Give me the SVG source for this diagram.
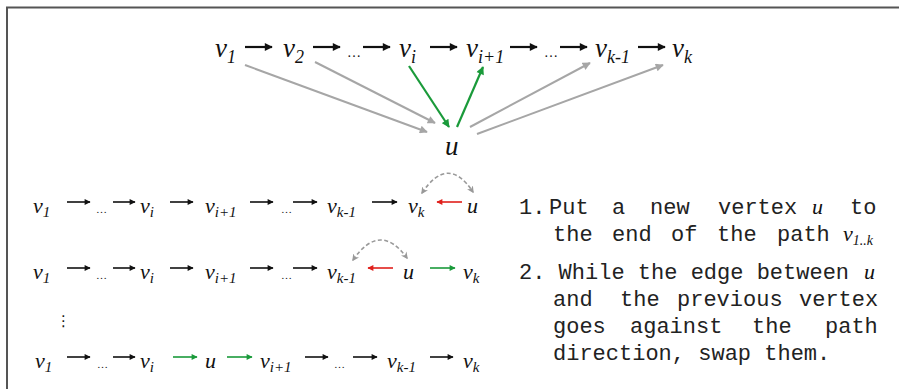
<svg xmlns="http://www.w3.org/2000/svg" width="899" height="389" viewBox="0 0 899 389">
<style>
.m{font-family:"Liberation Serif","DejaVu Serif",serif;font-style:italic;fill:#111}
.big{font-size:27px}
.mid{font-size:22px}
.dots{font-family:"Liberation Serif",serif;fill:#111}
.t{font-family:"Liberation Mono","DejaVu Sans Mono",monospace;font-size:22px;fill:#222}
.bk{stroke:#111;fill:none}
.gr{stroke:#a6a6a6;stroke-width:2;fill:none}
.gn{stroke:#1a9a3a;fill:none}
.rd{stroke:#e0201c;fill:none}
.ds{stroke:#999;stroke-width:1.6;fill:none;stroke-dasharray:4 2.5}
</style>
<defs>
<marker id="hb" viewBox="0 0 10 10" refX="9" refY="5" markerUnits="userSpaceOnUse" markerWidth="9" markerHeight="8" orient="auto"><path d="M0,0 L10,5 L0,10 z" fill="#111"/></marker>
<marker id="hbs" viewBox="0 0 10 10" refX="9" refY="5" markerUnits="userSpaceOnUse" markerWidth="7" markerHeight="6" orient="auto"><path d="M0,0 L10,5 L0,10 z" fill="#111"/></marker>
<marker id="hg" viewBox="0 0 10 10" refX="9" refY="5" markerUnits="userSpaceOnUse" markerWidth="9" markerHeight="8" orient="auto"><path d="M0,0 L10,5 L0,10 z" fill="#a6a6a6"/></marker>
<marker id="hn" viewBox="0 0 10 10" refX="9" refY="5" markerUnits="userSpaceOnUse" markerWidth="9" markerHeight="8" orient="auto"><path d="M0,0 L10,5 L0,10 z" fill="#1a9a3a"/></marker>
<marker id="hns" viewBox="0 0 10 10" refX="9" refY="5" markerUnits="userSpaceOnUse" markerWidth="7" markerHeight="6" orient="auto"><path d="M0,0 L10,5 L0,10 z" fill="#1a9a3a"/></marker>
<marker id="hrs" viewBox="0 0 10 10" refX="9" refY="5" markerUnits="userSpaceOnUse" markerWidth="7" markerHeight="6" orient="auto"><path d="M0,0 L10,5 L0,10 z" fill="#e0201c"/></marker>
<marker id="hd" viewBox="0 0 10 10" refX="8" refY="5" markerUnits="userSpaceOnUse" markerWidth="7" markerHeight="7" orient="auto-start-reverse"><path d="M0,0 L10,5 L0,10 L3,5 z" fill="#999"/></marker>
</defs>
<rect width="899" height="389" fill="#fff"/>
<path d="M7,399 V7.5 H910" stroke="#555" stroke-width="2" fill="none"/>

<!-- top row nodes -->
<g id="t-v1"><text class="m big" x="215" y="57">v<tspan font-size="18" dy="6">1</tspan></text></g>
<g id="t-v2"><text class="m big" x="283" y="57">v<tspan font-size="18" dy="6">2</tspan></text></g>
<g id="t-d1"><text class="dots" font-size="14" x="347" y="57">…</text></g>
<g id="t-vi"><text class="m big" x="399" y="57">v<tspan font-size="18" dy="6">i</tspan></text></g>
<g id="t-vi1"><text class="m big" x="466" y="57">v<tspan font-size="18" dy="6">i+1</tspan></text></g>
<g id="t-d2"><text class="dots" font-size="14" x="544" y="57">…</text></g>
<g id="t-vk1"><text class="m big" x="595" y="57">v<tspan font-size="18" dy="6">k-1</tspan></text></g>
<g id="t-vk"><text class="m big" x="672" y="57">v<tspan font-size="18" dy="6">k</tspan></text></g>
<g id="t-u"><text class="m big" x="445" y="155">u</text></g>

<!-- row 2 -->
<g id="r2-v1"><text class="m mid" x="33" y="213">v<tspan font-size="15" dy="4">1</tspan></text></g>
<g id="r2-d1"><text class="dots" font-size="11" x="96" y="213">…</text></g>
<g id="r2-vi"><text class="m mid" x="140" y="213">v<tspan font-size="15" dy="4">i</tspan></text></g>
<g id="r2-vi1"><text class="m mid" x="205" y="213">v<tspan font-size="15" dy="4">i+1</tspan></text></g>
<g id="r2-d2"><text class="dots" font-size="11" x="281" y="213">…</text></g>
<g id="r2-vk1"><text class="m mid" x="327" y="213">v<tspan font-size="15" dy="4">k-1</tspan></text></g>
<g id="r2-vk"><text class="m mid" x="408" y="213">v<tspan font-size="15" dy="4">k</tspan></text></g>
<g id="r2-u"><text class="m mid" x="467" y="213">u</text></g>

<!-- row 3 -->
<g id="r3-v1"><text class="m mid" x="33" y="279">v<tspan font-size="15" dy="4">1</tspan></text></g>
<g id="r3-d1"><text class="dots" font-size="11" x="96" y="279">…</text></g>
<g id="r3-vi"><text class="m mid" x="140" y="279">v<tspan font-size="15" dy="4">i</tspan></text></g>
<g id="r3-vi1"><text class="m mid" x="205" y="279">v<tspan font-size="15" dy="4">i+1</tspan></text></g>
<g id="r3-d2"><text class="dots" font-size="11" x="281" y="279">…</text></g>
<g id="r3-vk1"><text class="m mid" x="327" y="279">v<tspan font-size="15" dy="4">k-1</tspan></text></g>
<g id="r3-u"><text class="m mid" x="403" y="279">u</text></g>
<g id="r3-vk"><text class="m mid" x="463" y="279">v<tspan font-size="15" dy="4">k</tspan></text></g>

<g id="vdots"><text font-family="DejaVu Sans,sans-serif" font-size="15" x="56" y="326" fill="#111">⋮</text></g>

<!-- row 4 -->
<g id="r4-v1"><text class="m mid" x="35" y="368">v<tspan font-size="15" dy="4">1</tspan></text></g>
<g id="r4-d1"><text class="dots" font-size="11" x="97" y="368">…</text></g>
<g id="r4-vi"><text class="m mid" x="140" y="368">v<tspan font-size="15" dy="4">i</tspan></text></g>
<g id="r4-u"><text class="m mid" x="205" y="368">u</text></g>
<g id="r4-vi1"><text class="m mid" x="260" y="368">v<tspan font-size="15" dy="4">i+1</tspan></text></g>
<g id="r4-d2"><text class="dots" font-size="11" x="334" y="368">…</text></g>
<g id="r4-vk1"><text class="m mid" x="387" y="368">v<tspan font-size="15" dy="4">k-1</tspan></text></g>
<g id="r4-vk"><text class="m mid" x="463" y="368">v<tspan font-size="15" dy="4">k</tspan></text></g>

<!-- description -->
<g id="desc">
<text class="t" y="214"><tspan x="519">1.</tspan><tspan x="549">Put</tspan><tspan x="612">a</tspan><tspan x="650">new</tspan><tspan x="718">vertex</tspan><tspan x="812" class="m" font-size="22">u</tspan><tspan x="850">to</tspan></text>
<text class="t" y="241"><tspan x="553">the</tspan><tspan x="612">end</tspan><tspan x="671">of</tspan><tspan x="717">the</tspan><tspan x="777">path</tspan><tspan x="843" class="m" font-size="22">v</tspan><tspan class="m" font-size="14" dy="4">1..k</tspan></text>
<text class="t" y="279"><tspan x="519">2. While the edge between </tspan><tspan x="864" class="m" font-size="22">u</tspan></text>
<text class="t" y="306"><tspan x="553">and</tspan><tspan x="620">the</tspan><tspan x="677">previous</tspan><tspan x="799">vertex</tspan></text>
<text class="t" y="333"><tspan x="553">goes</tspan><tspan x="630">against</tspan><tspan x="752">the</tspan><tspan x="825">path</tspan></text>
<text class="t" y="360"><tspan x="553">direction, swap them.</tspan></text>
</g>

<g id="connectors">
<!-- top row -->
<line class="bk" stroke-width="2.2" x1="245" y1="47" x2="272" y2="47" marker-end="url(#hb)"/>
<line class="bk" stroke-width="2.2" x1="313" y1="47" x2="340" y2="47" marker-end="url(#hb)"/>
<line class="bk" stroke-width="2.2" x1="363" y1="47" x2="390" y2="47" marker-end="url(#hb)"/>
<line class="bk" stroke-width="2.2" x1="430" y1="47" x2="457" y2="47" marker-end="url(#hb)"/>
<line class="bk" stroke-width="2.2" x1="510" y1="47" x2="537" y2="47" marker-end="url(#hb)"/>
<line class="bk" stroke-width="2.2" x1="560" y1="47" x2="587" y2="47" marker-end="url(#hb)"/>
<line class="bk" stroke-width="2.2" x1="638" y1="47" x2="665" y2="47" marker-end="url(#hb)"/>
<line class="gr" x1="245" y1="65" x2="427" y2="132" marker-end="url(#hg)"/>
<line class="gr" x1="315" y1="62" x2="435" y2="123" marker-end="url(#hg)"/>
<line class="gn" stroke-width="2.2" x1="409" y1="66" x2="449" y2="127" marker-end="url(#hn)"/>
<line class="gn" stroke-width="2.2" x1="457" y1="127" x2="483" y2="67" marker-end="url(#hn)"/>
<line class="gr" x1="470" y1="127" x2="590" y2="63" marker-end="url(#hg)"/>
<line class="gr" x1="477" y1="134" x2="663" y2="65" marker-end="url(#hg)"/>
<!-- row 2 -->
<line class="bk" stroke-width="1.6" x1="67" y1="202" x2="90" y2="202" marker-end="url(#hbs)"/>
<line class="bk" stroke-width="1.6" x1="113" y1="202" x2="135" y2="202" marker-end="url(#hbs)"/>
<line class="bk" stroke-width="1.6" x1="170" y1="202" x2="193" y2="202" marker-end="url(#hbs)"/>
<line class="bk" stroke-width="1.6" x1="250" y1="202" x2="273" y2="202" marker-end="url(#hbs)"/>
<line class="bk" stroke-width="1.6" x1="293" y1="202" x2="317" y2="202" marker-end="url(#hbs)"/>
<line class="bk" stroke-width="1.6" x1="372" y1="202" x2="397" y2="202" marker-end="url(#hbs)"/>
<line class="rd" stroke-width="1.6" x1="462" y1="202" x2="437" y2="202" marker-end="url(#hrs)"/>
<path class="ds" d="M422,193 Q448,154 473,192" marker-start="url(#hd)" marker-end="url(#hd)"/>
<!-- row 3 -->
<line class="bk" stroke-width="1.6" x1="67" y1="268" x2="90" y2="268" marker-end="url(#hbs)"/>
<line class="bk" stroke-width="1.6" x1="113" y1="268" x2="135" y2="268" marker-end="url(#hbs)"/>
<line class="bk" stroke-width="1.6" x1="170" y1="268" x2="193" y2="268" marker-end="url(#hbs)"/>
<line class="bk" stroke-width="1.6" x1="250" y1="268" x2="273" y2="268" marker-end="url(#hbs)"/>
<line class="bk" stroke-width="1.6" x1="293" y1="268" x2="317" y2="268" marker-end="url(#hbs)"/>
<line class="rd" stroke-width="1.6" x1="393" y1="268" x2="368" y2="268" marker-end="url(#hrs)"/>
<line class="gn" stroke-width="1.6" x1="430" y1="268" x2="455" y2="268" marker-end="url(#hns)"/>
<path class="ds" d="M353,260 Q380,221 407,258" marker-start="url(#hd)" marker-end="url(#hd)"/>
<!-- row 4 -->
<line class="bk" stroke-width="1.6" x1="67" y1="357" x2="90" y2="357" marker-end="url(#hbs)"/>
<line class="bk" stroke-width="1.6" x1="113" y1="357" x2="135" y2="357" marker-end="url(#hbs)"/>
<line class="gn" stroke-width="1.6" x1="173" y1="357" x2="197" y2="357" marker-end="url(#hns)"/>
<line class="gn" stroke-width="1.6" x1="227" y1="357" x2="252" y2="357" marker-end="url(#hns)"/>
<line class="bk" stroke-width="1.6" x1="305" y1="357" x2="328" y2="357" marker-end="url(#hbs)"/>
<line class="bk" stroke-width="1.6" x1="353" y1="357" x2="377" y2="357" marker-end="url(#hbs)"/>
<line class="bk" stroke-width="1.6" x1="430" y1="357" x2="453" y2="357" marker-end="url(#hbs)"/>
</g>
</svg>
